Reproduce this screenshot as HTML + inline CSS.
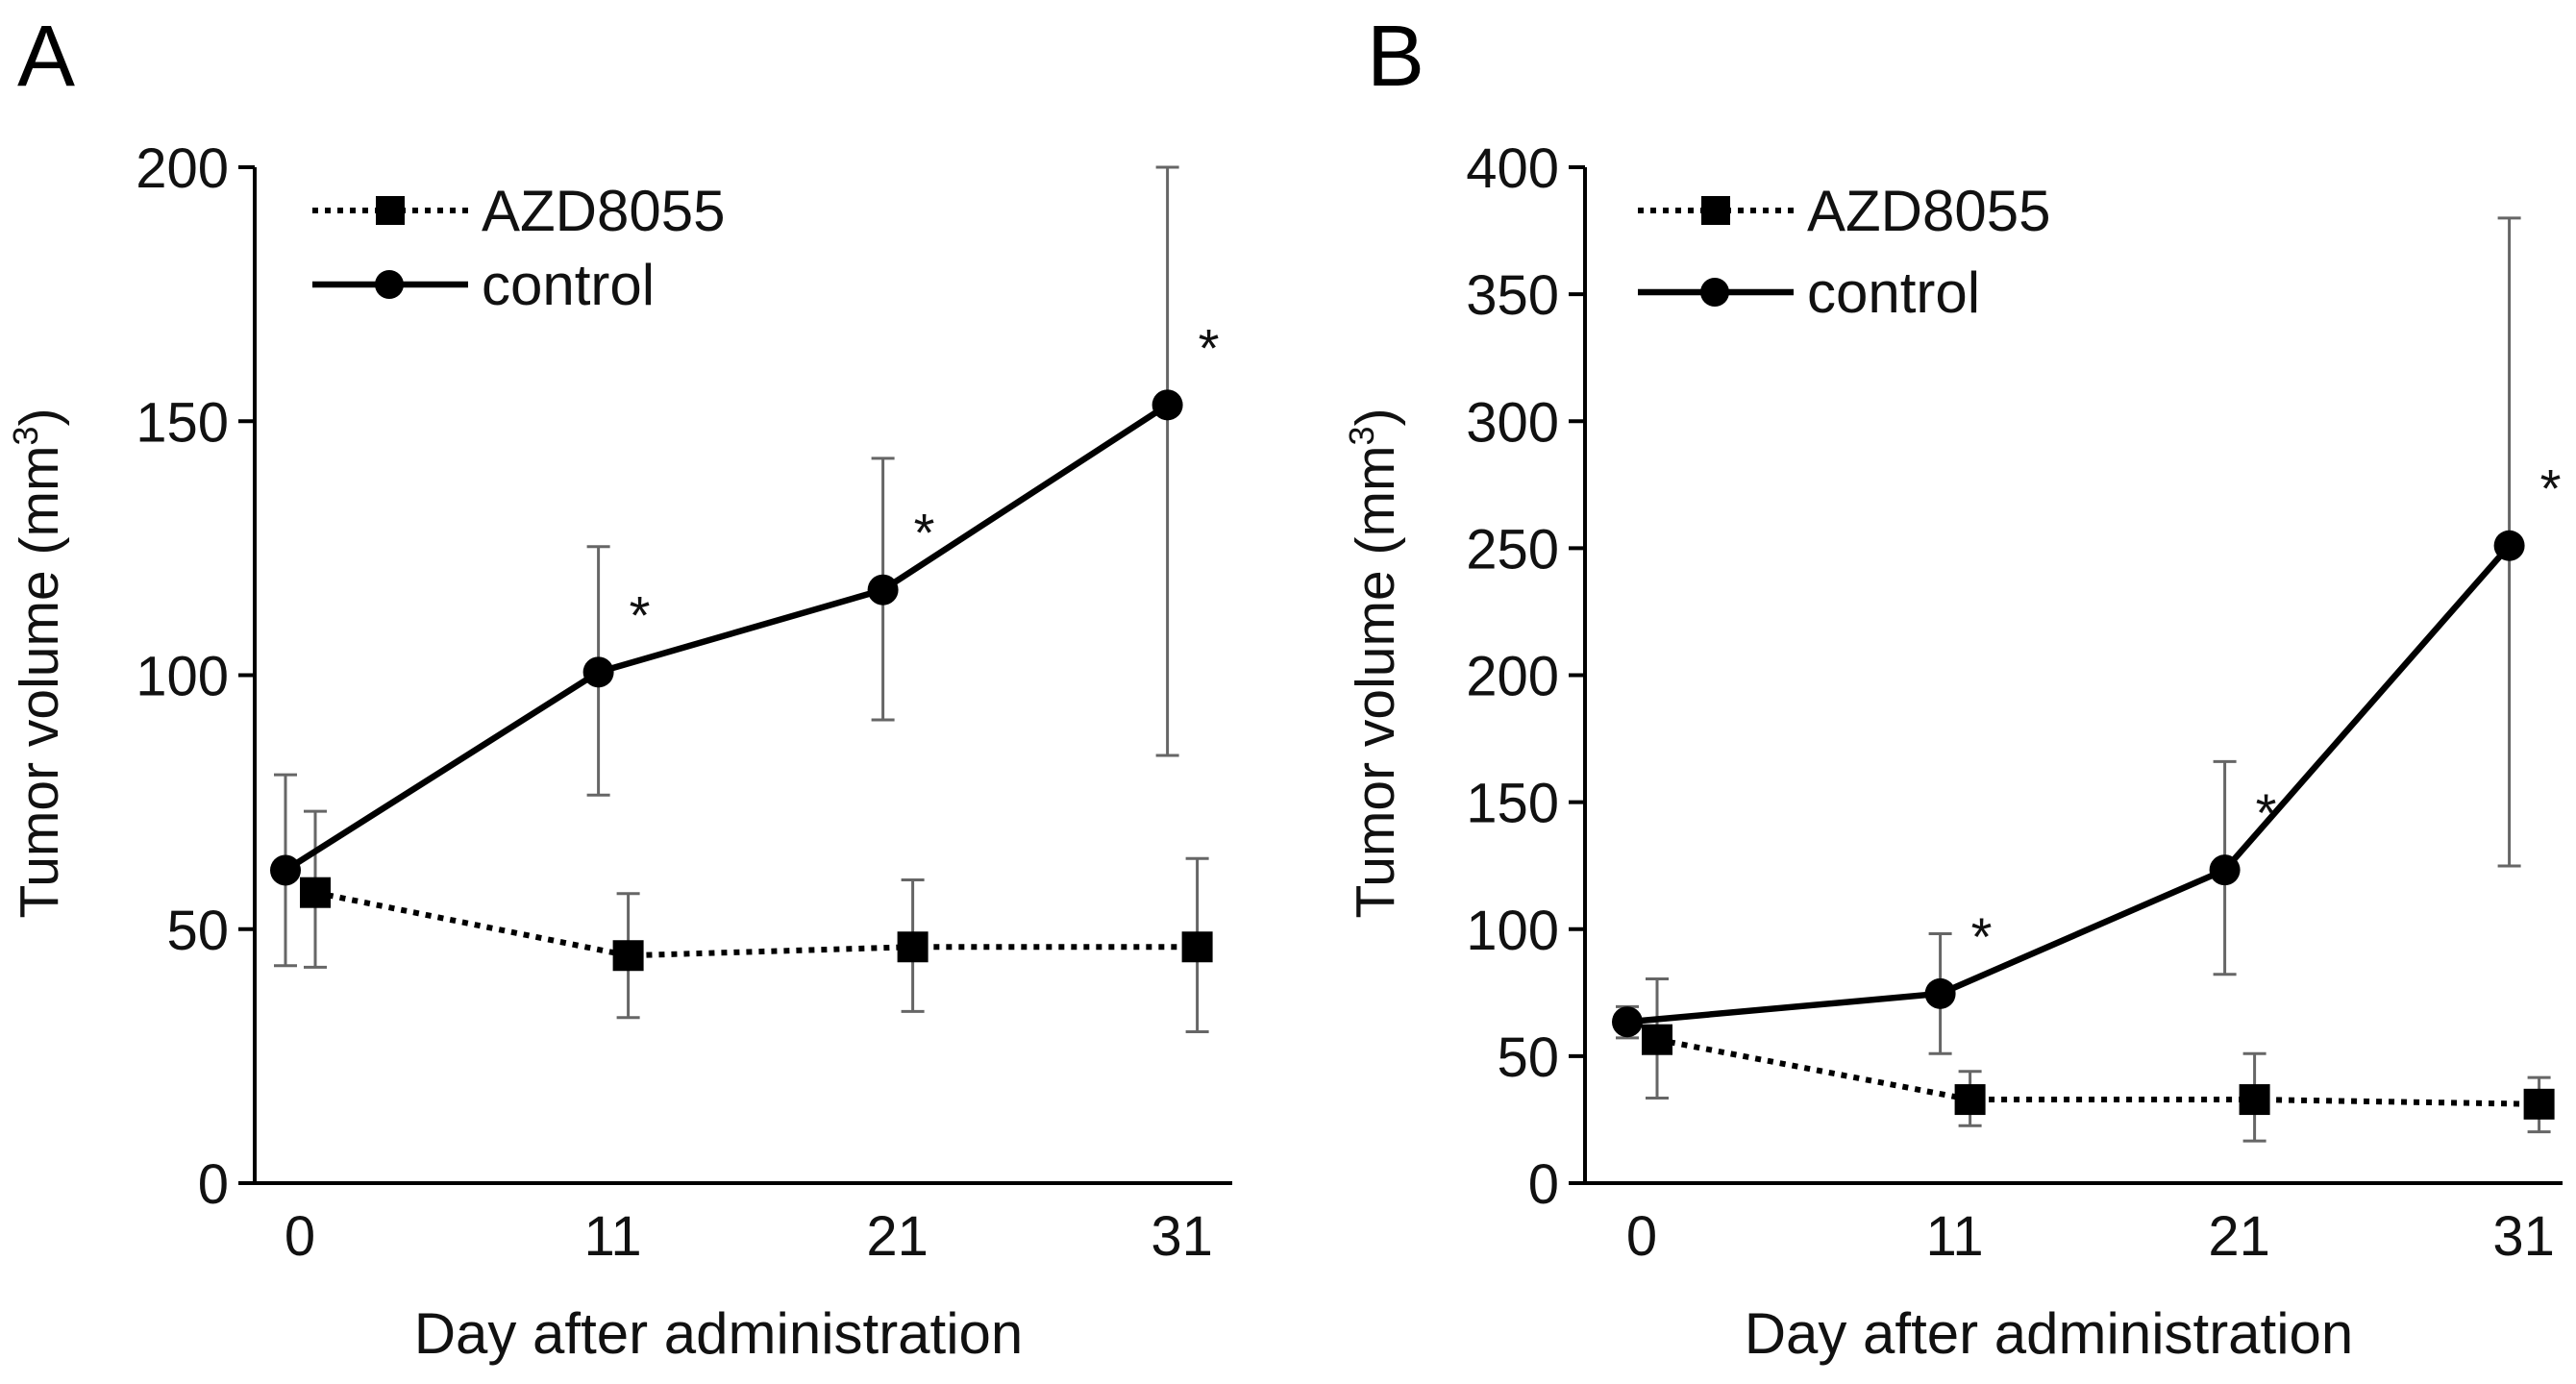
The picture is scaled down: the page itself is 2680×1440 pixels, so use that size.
<!DOCTYPE html>
<html><head><meta charset="utf-8"><style>
html,body{margin:0;padding:0;background:#fff;}
svg{display:block;font-family:"Liberation Sans",Arial,sans-serif;}
</style></head><body>
<svg id="chart" width="2680" height="1440" viewBox="0 0 2680 1440"></svg>
<script>
const days = [0, 11, 21, 31];
const ctrlA = [61.6, 100.6, 116.8, 153.2];
const ctrlAHi = [80.4, 125.3, 142.7, 200];
const ctrlALo = [42.8, 76.4, 91.2, 84.2];
const azdA = [57.2, 44.8, 46.5, 46.5];
const azdAHi = [73.2, 57, 59.7, 63.9];
const azdALo = [42.5, 32.6, 33.8, 29.8];
const ctrlB = [63.5, 74.6, 123.3, 251];
const ctrlBHi = [69.5, 98.2, 166, 380];
const ctrlBLo = [57.2, 51, 82.2, 124.9];
const azdB = [56.5, 32.9, 32.9, 31.1];
const azdBHi = [80.4, 44, 51, 41.6];
const azdBLo = [33.5, 22.6, 16.6, 20.2];
const yTicksA = [0, 50, 100, 150, 200];
const yTicksB = [0, 50, 100, 150, 200, 250, 300, 350, 400];
const sigA = [false, true, true, true];
const sigB = [false, true, true, true];

const NS = "http://www.w3.org/2000/svg";
const svg = document.getElementById('chart');
function mk(tag, attrs, parent, text) {
  const e = document.createElementNS(NS, tag);
  for (const k in attrs) e.setAttribute(k, attrs[k]);
  if (text !== undefined) e.textContent = text;
  (parent || svg).appendChild(e);
  return e;
}

function panel(cfg) {
  const g = mk('g', {});
  
  
  const x0 = cfg.axisX, yBot = 1231, yTop = 174;
  const xs = d => cfg.day0 + d * 29.6;
  const ys = v => yBot - (v / cfg.yMax) * (yBot - yTop);

  const lab = mk('text', {x: cfg.labelX, y: 89, 'font-size': 90}, g, cfg.letter);
  
  

  const ya = mk('line', {x1: x0, y1: yTop, x2: x0, y2: yBot + 2, stroke: '#000', 'stroke-width': 4}, g);
  
  
  const xa = mk('line', {x1: x0 - 2, y1: yBot, x2: cfg.axisEnd, y2: yBot, stroke: '#000', 'stroke-width': 4}, g);
  
  

  cfg.yTicks.forEach(t => {
    const tk = mk('line', {x1: x0 - 17, y1: ys(t), x2: x0, y2: ys(t), stroke: '#000', 'stroke-width': 4}, g);
    
    
    const tl = mk('text', {x: x0 - 27, y: ys(t) + 21, 'font-size': 58, 'text-anchor': 'end', fill: '#111'}, g, String(t));
    
    
  });
  days.forEach(d => {
    const tl = mk('text', {x: xs(d), y: 1306, 'font-size': 58, 'text-anchor': 'middle', fill: '#111'}, g, String(d));
    
    
  });
  const xt = mk('text', {x: (x0 + cfg.axisEnd) / 2 - 26, y: 1408, 'font-size': 60, 'text-anchor': 'middle', fill: '#111'}, g, 'Day after administration');
  
  
  const yt = mk('text', {x: 0, y: 0, 'font-size': 57, 'text-anchor': 'middle', fill: '#111', transform: `translate(${cfg.yTitleX},690) rotate(-90)`}, g);
  
  
  yt.appendChild(document.createTextNode('Tumor volume (mm'));
  mk('tspan', {'font-size': 36, dy: -21}, yt, '3');
  mk('tspan', {dy: 21}, yt, ')');

  function errs(vHi, vLo, off, nm) {
    days.forEach((d, i) => {
      const x = xs(d) + off;
      const eb = mk('g', {stroke: '#666', 'stroke-width': 3}, g);
      
      
      mk('line', {x1: x, y1: ys(vHi[i]), x2: x, y2: ys(vLo[i])}, eb);
      mk('line', {x1: x - 12, y1: ys(vHi[i]), x2: x + 12, y2: ys(vHi[i])}, eb);
      mk('line', {x1: x - 12, y1: ys(vLo[i]), x2: x + 12, y2: ys(vLo[i])}, eb);
    });
  }
  errs(cfg.cHi, cfg.cLo, -15, 'control-error-bar');
  errs(cfg.aHi, cfg.aLo, 16, 'azd8055-error-bar');

  const ap = days.map((d, i) => `${xs(d) + 16},${ys(cfg.azd[i])}`).join(' ');
  const al = mk('polyline', {points: ap, fill: 'none', stroke: '#000', 'stroke-width': 6, 'stroke-dasharray': '6 7'}, g);
  
  
  const cp = days.map((d, i) => `${xs(d) - 15},${ys(cfg.ctrl[i])}`).join(' ');
  const cl = mk('polyline', {points: cp, fill: 'none', stroke: '#000', 'stroke-width': 6.5}, g);
  
  

  days.forEach((d, i) => {
    const s = mk('rect', {x: xs(d) + 16 - 16, y: ys(cfg.azd[i]) - 16, width: 32, height: 32, fill: '#000'}, g);
    
    
    const c = mk('circle', {cx: xs(d) - 15, cy: ys(cfg.ctrl[i]), r: 16, fill: '#000'}, g);
    
    
    if (cfg.sig[i]) {
      const st = mk('text', {x: xs(d) + 17, y: ys(cfg.ctrl[i]) - 40, 'font-size': 56, fill: '#111'}, g, '*');
      
      
    }
  });

  const lg = mk('g', {}, g);
  
  
  const lx = cfg.legX;
  const e1 = mk('g', {}, lg);
  
  
  mk('line', {x1: lx, y1: 219, x2: lx + 162, y2: 219, stroke: '#000', 'stroke-width': 6, 'stroke-dasharray': '6 7'}, e1);
  mk('rect', {x: lx + 66, y: 204, width: 30, height: 30, fill: '#000'}, e1);
  mk('text', {x: lx + 176, y: 240, 'font-size': 60, fill: '#111'}, e1, 'AZD8055');
  const e2 = mk('g', {}, lg);
  
  
  mk('line', {x1: lx, y1: cfg.legY2, x2: lx + 162, y2: cfg.legY2, stroke: '#000', 'stroke-width': 6.5}, e2);
  mk('circle', {cx: lx + 80, cy: cfg.legY2, r: 15, fill: '#000'}, e2);
  mk('text', {x: lx + 176, y: cfg.legY2 + 21, 'font-size': 60, fill: '#111'}, e2, 'control');
}

panel({name: 'panel-a', letter: 'A', labelX: 18, axisX: 265, axisEnd: 1282, day0: 312, yMax: 200, yTicks: yTicksA,
  ctrl: ctrlA, cHi: ctrlAHi, cLo: ctrlALo, azd: azdA, aHi: azdAHi, aLo: azdALo, sig: sigA,
  yTitleX: 60, legX: 325, legY2: 296});
panel({name: 'panel-b', letter: 'B', labelX: 1422, axisX: 1649, axisEnd: 2666, day0: 1708, yMax: 400, yTicks: yTicksB,
  ctrl: ctrlB, cHi: ctrlBHi, cLo: ctrlBLo, azd: azdB, aHi: azdBHi, aLo: azdBLo, sig: sigB,
  yTitleX: 1450, legX: 1704, legY2: 304});
</script>
</body></html>
